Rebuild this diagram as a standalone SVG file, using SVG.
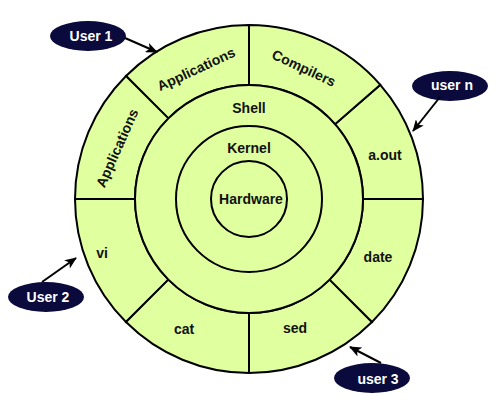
<svg xmlns="http://www.w3.org/2000/svg" width="500" height="400" viewBox="0 0 500 400">
<defs>
<style>
.ring{fill:#e0ff9f;stroke:#000;stroke-width:2}
.lbl{font-family:"Liberation Sans",Arial,sans-serif;font-weight:bold;font-size:14px;fill:#111;text-anchor:middle}
.user{fill:#0a0a3c}
.ulbl{font-family:"Liberation Sans",Arial,sans-serif;font-weight:bold;font-size:14px;fill:#fff;text-anchor:middle}
.conn{stroke:#000;stroke-width:2;fill:none;marker-end:url(#arrow)}
</style>
<marker id="arrow" markerUnits="userSpaceOnUse" markerWidth="12" markerHeight="10" refX="11" refY="5" orient="auto">
<path d="M0,0 L12,5 L0,10 L3,5 Z" fill="#000"/>
</marker>
</defs>
<rect width="500" height="400" fill="#fff"/>

<g id="sector-aout">
<path class="ring" d="M423,199 A174,174 0 0 0 380.3,84.8 L335,124.2 A114,114 0 0 1 363,199 Z"/>
<text class="lbl" x="385" y="160">a.out</text>
</g>
<g id="sector-compilers">
<path class="ring" d="M380.3,84.8 A174,174 0 0 0 249,25 L249,85 A114,114 0 0 1 335,124.2 Z"/>
<text class="lbl" transform="translate(304,68) rotate(25)" x="0" y="5">Compilers</text>
</g>
<g id="sector-applications-1">
<path class="ring" d="M249,25 A174,174 0 0 0 126,76 L168.4,118.4 A114,114 0 0 1 249,85 Z"/>
<text class="lbl" transform="translate(196,69) rotate(-25)" x="0" y="5">Applications</text>
</g>
<g id="sector-applications-2">
<path class="ring" d="M126,76 A174,174 0 0 0 75,199 L135,199 A114,114 0 0 1 168.4,118.4 Z"/>
<text class="lbl" transform="translate(117,148) rotate(-66)" x="0" y="5">Applications</text>
</g>
<g id="sector-vi">
<path class="ring" d="M75,199 A174,174 0 0 0 126,322 L168.4,279.6 A114,114 0 0 1 135,199 Z"/>
<text class="lbl" x="102" y="258">vi</text>
</g>
<g id="sector-cat">
<path class="ring" d="M126,322 A174,174 0 0 0 249,373 L249,313 A114,114 0 0 1 168.4,279.6 Z"/>
<text class="lbl" x="184" y="334">cat</text>
</g>
<g id="sector-sed">
<path class="ring" d="M249,373 A174,174 0 0 0 372,322 L329.6,279.6 A114,114 0 0 1 249,313 Z"/>
<text class="lbl" x="295" y="333">sed</text>
</g>
<g id="sector-date">
<path class="ring" d="M372,322 A174,174 0 0 0 423,199 L363,199 A114,114 0 0 1 329.6,279.6 Z"/>
<text class="lbl" x="378" y="262">date</text>
</g>

<g id="shell">
<circle class="ring" cx="249" cy="199" r="114"/>
<text class="lbl" x="249" y="113">Shell</text>
</g>
<g id="kernel">
<circle class="ring" cx="249" cy="199" r="73"/>
<text class="lbl" x="249" y="153">Kernel</text>
</g>
<g id="hardware">
<circle class="ring" cx="249" cy="199" r="38"/>
<text class="lbl" x="251" y="204">Hardware</text>
</g>

<g id="user-1">
<ellipse class="user" cx="88" cy="36" rx="38" ry="15"/>
<text class="ulbl" x="91" y="41">User 1</text>
</g>
<g id="user-n">
<ellipse class="user" cx="450" cy="86" rx="38" ry="15"/>
<text class="ulbl" x="452" y="90">user n</text>
</g>
<g id="user-2">
<ellipse class="user" cx="46" cy="297" rx="38" ry="15"/>
<text class="ulbl" x="48" y="302">User 2</text>
</g>
<g id="user-3">
<ellipse class="user" cx="372" cy="378" rx="38" ry="15"/>
<text class="ulbl" x="378" y="384">user 3</text>
</g>

<g id="connectors">
<line class="conn" x1="125" y1="38" x2="157" y2="52"/>
<line class="conn" x1="440" y1="97" x2="413" y2="131"/>
<line class="conn" x1="42" y1="282" x2="76" y2="258"/>
<line class="conn" x1="381" y1="363" x2="350" y2="347"/>
</g>
</svg>
